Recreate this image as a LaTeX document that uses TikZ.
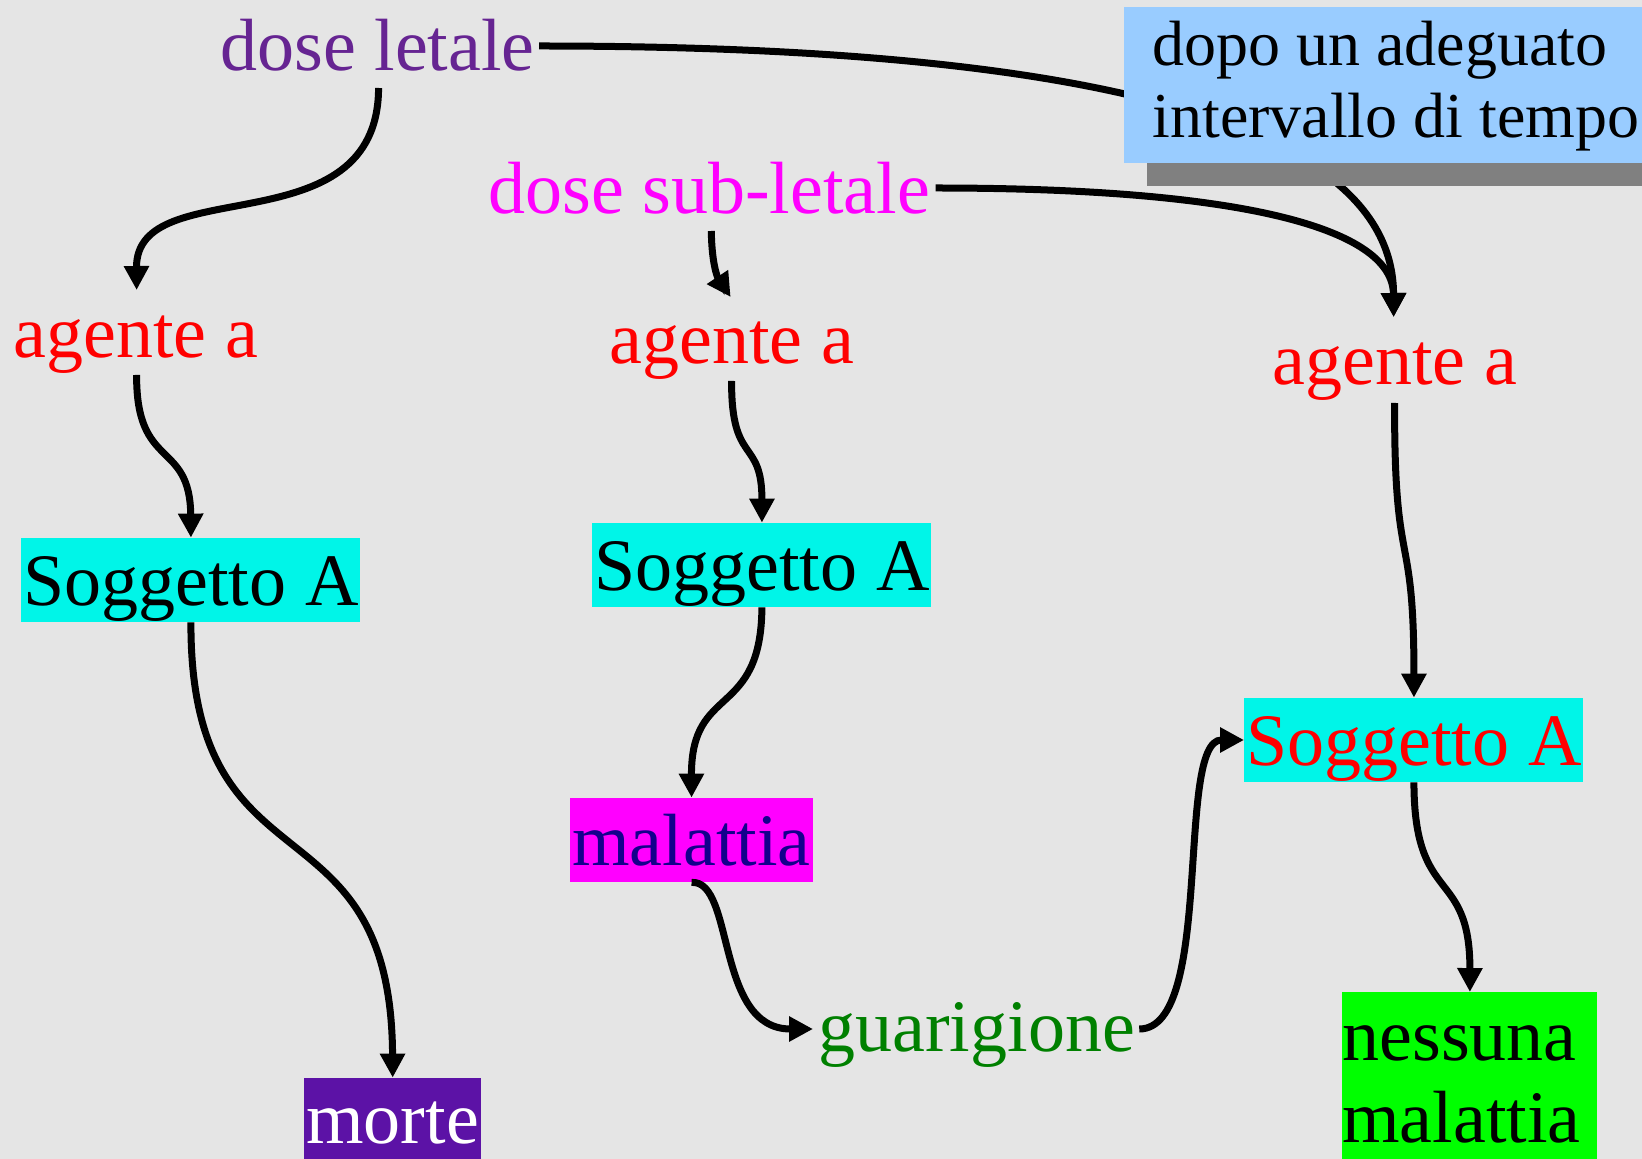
\documentclass[tikz,border=0pt]{standalone}
\usepackage{fontspec}
\setmainfont{Liberation Serif}
\usetikzlibrary{arrows.meta,calc,shadows}
\definecolor{bggray}{RGB}{229,229,229}
\definecolor{dpurple}{RGB}{102,36,146}
\definecolor{pmagenta}{RGB}{255,0,255}
\definecolor{pred}{RGB}{255,0,0}
\definecolor{cyanbox}{RGB}{0,245,232}
\definecolor{navytext}{RGB}{20,0,140}
\definecolor{darkgreen}{RGB}{0,128,0}
\definecolor{mortebox}{RGB}{92,18,166}
\definecolor{greenbox}{RGB}{0,255,0}
\definecolor{bluebox}{RGB}{153,204,255}
\definecolor{shadowgray}{RGB}{128,128,128}
\begin{document}
\begin{tikzpicture}[x=0.5pt,y=-0.5pt,
  lbl/.style={inner sep=0pt, anchor=base west, font=\fontsize{37}{44}\selectfont},
  boxlbl/.style={lbl, inner xsep=1pt, text height=33.5pt, text depth=8.5pt},
  conn/.style={line width=3.5pt, -{Triangle[length=12pt,width=12pt]}}]
\fill[bggray] (0,0) rectangle (1642,1159);
\useasboundingbox (0,0) rectangle (1642,1159);
\clip (0,0) rectangle (1642,1159);

% labels
\node[lbl, text=dpurple] (doseL) at (220,71) {dose letale};
\node[lbl, text=pmagenta] (doseS) at (488,214) {dose sub-letale};
\node[lbl, text=pred] (ag1) at (13,358) {agente a};
\node[lbl, text=pred] (ag2) at (609,364) {agente a};
\node[lbl, text=pred] (ag3) at (1272,385) {agente a};
\node[boxlbl, fill=cyanbox] (so1) at (21,605) {Soggetto A};
\node[boxlbl, fill=cyanbox] (so2) at (592,590) {Soggetto A};
\node[boxlbl, fill=cyanbox, text=pred] (so3) at (1244,765) {Soggetto A};
\node[boxlbl, fill=pmagenta, text=navytext] (mal) at (570,865) {malattia};
\node[lbl, text=darkgreen] (guar) at (818,1051) {guarigione};
\node[lbl, inner xsep=1pt, text height=32.5pt, text depth=12pt, fill=mortebox, text=white] (mor) at (304,1143) {morte};
\node[inner sep=0pt, anchor=north west, fill=greenbox, align=left, text width=127.5pt,
      font=\fontsize{37}{41}\selectfont] (ness) at (1342,992)
      {\rule{0pt}{34pt}nessuna\\malattia\rule[-12pt]{0pt}{1pt}};

% connectors
\draw[conn] ($(doseL.base)+(1,17)$) .. controls (378,250) and (136,170) .. ($(ag1.base)+(1,-68)$);
\draw[conn] ($(doseL.base east)+(4,-25)$) .. controls (1000,46) and (1393,100) .. ($(ag3.base)+(-1,-68)$);
\draw[conn] ($(doseS.base east)+(5,-26)$) .. controls (1250,188) and (1393,230) .. ($(ag3.base)+(-1,-68)$);
\draw[conn] ($(doseS.base)+(2,17)$) .. controls (712,280) and (724,287) .. ($(ag2.base)+(-1,-67)$);
\draw[conn] ($(ag1.base)+(1,17)$) .. controls (136,471) and (190,439) .. (so1.north);
\draw[conn] ($(ag2.base)+(0,17)$) .. controls (731,466) and (762,437) .. (so2.north);
\draw[conn] ($(ag3.base)+(0,18)$) .. controls (1394,579) and (1414,521) .. (so3.north);
\draw[conn] (so1.south) .. controls (190,900) and (391,790) .. (mor.north);
\draw[conn] (so2.south) .. controls (761,720) and (691,683) .. (mal.north);
\draw[conn] (mal.south) .. controls (735,880) and (715,1029) .. ($(guar.base west)+(-5,-22)$);
\draw[conn] ($(guar.base east)+(4,-22)$) .. controls (1215,1029) and (1175,740) .. (so3.west);
\draw[conn] (so3.south) .. controls (1414,907) and (1470,866) .. (ness.north);

% time box with shadow
\node[inner xsep=14pt, inner ysep=0pt, anchor=north west, fill=bluebox, align=left,
      font=\fontsize{32}{36}\selectfont,
      drop shadow={shadow xshift=11.5pt, shadow yshift=-11.5pt, opacity=1, fill=shadowgray}]
      (tbox) at (1124,7)
      {\rule{0pt}{29pt}dopo un adeguato\\intervallo di tempo\rule[-13pt]{0pt}{1pt}};
\end{tikzpicture}
\end{document}
